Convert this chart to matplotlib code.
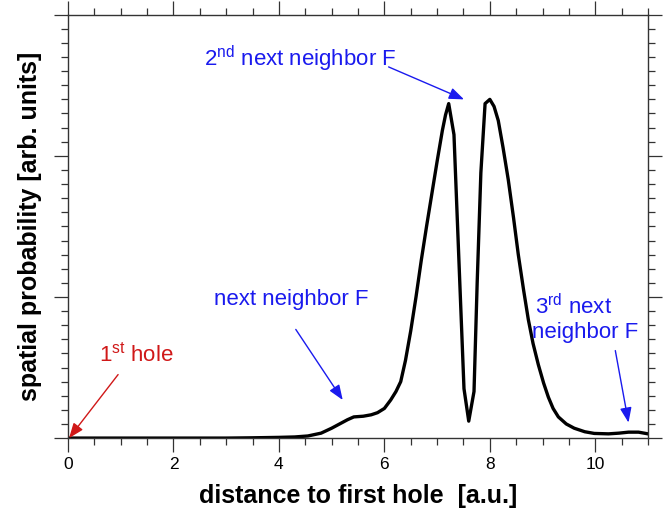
import matplotlib
matplotlib.use("Agg")
import matplotlib.pyplot as plt
from matplotlib.ticker import MultipleLocator, NullFormatter

plt.rcParams["font.family"] = ["Liberation Sans", "DejaVu Sans"]
plt.rcParams["mathtext.fontset"] = "custom"
plt.rcParams["mathtext.rm"] = "Liberation Sans"

# --- curve (distance [a.u.], probability [arb. units]) ---
dist = [0.0, 1.0, 2.0, 3.0, 3.5, 4.0, 4.3, 4.55, 4.8, 5.0, 5.15, 5.3, 5.42,
        5.6, 5.75, 5.87, 6.0, 6.12, 6.22, 6.31, 6.4, 6.5, 6.6, 6.7, 6.8,
        6.9, 7.0, 7.1, 7.16, 7.22, 7.32, 7.42, 7.51, 7.60, 7.70, 7.76,
        7.83, 7.91, 8.0, 8.08, 8.16, 8.25, 8.35, 8.45, 8.54, 8.64, 8.73,
        8.82, 8.92, 9.02, 9.11, 9.2, 9.3, 9.45, 9.6, 9.8, 9.98, 10.25,
        10.45, 10.63, 10.82, 11.0]
prob = [0.0, 0.0, 0.0, 0.0, 0.002, 0.005, 0.008, 0.015, 0.035, 0.07, 0.10,
        0.13, 0.15, 0.155, 0.165, 0.18, 0.21, 0.27, 0.33, 0.40, 0.55, 0.76,
        1.00, 1.26, 1.50, 1.73, 1.96, 2.18, 2.29, 2.37, 2.15, 1.20, 0.35,
        0.12, 0.33, 1.10, 1.88, 2.37, 2.40, 2.35, 2.25, 2.06, 1.83, 1.56,
        1.30, 1.05, 0.84, 0.67, 0.52, 0.39, 0.29, 0.21, 0.15, 0.10, 0.07,
        0.045, 0.033, 0.03, 0.035, 0.042, 0.042, 0.03]

blue = "#1a1aee"
red = "#d01818"

fig = plt.figure(figsize=(6.72, 5.16), dpi=100)
ax = fig.add_axes([0.1012, 0.151, 0.8631, 0.8205])

ax.plot(dist, prob, color="black", lw=2.4, solid_joinstyle="round")

ax.set_xlim(0, 11)
ax.set_ylim(0, 3)
ax.xaxis.set_major_locator(MultipleLocator(2))
ax.xaxis.set_minor_locator(MultipleLocator(0.5))
ax.yaxis.set_major_locator(MultipleLocator(1))
ax.yaxis.set_minor_locator(MultipleLocator(0.1))
ax.yaxis.set_major_formatter(NullFormatter())
ax.tick_params(which="both", direction="out", top=True, right=True,
               color="#333333", width=0.9, labelsize=12.5)
ax.tick_params(which="major", length=10)
ax.tick_params(which="minor", length=5)
for sp in ax.spines.values():
    sp.set_linewidth(1.0)
    sp.set_color("#333333")

ax.set_xlabel("distance to first hole  [a.u.]", fontsize=18, fontweight="bold",
              labelpad=9)
ax.set_ylabel("spatial probability [arb. units]", fontsize=18, fontweight="bold",
              labelpad=5)

arrow_kw = dict(arrowstyle="-|>,head_length=0.9,head_width=0.35", lw=1.0,
                shrinkA=0, shrinkB=0)

# 1st hole
ax.annotate("", xy=(0.02, 0.0), xytext=(0.95, 0.45),
            arrowprops=dict(color=red, **arrow_kw))
ax.text(1.29, 0.59, r"1$^{\mathrm{st}}$ hole", color=red, fontsize=16,
        ha="center", va="center")

# next neighbor
ax.annotate("", xy=(5.21, 0.27), xytext=(4.32, 0.77),
            arrowprops=dict(color=blue, **arrow_kw))
ax.text(4.24, 0.98, "next neighbor F", color=blue, fontsize=16,
        ha="center", va="center")

# 2nd next neighbor
ax.annotate("", xy=(7.51, 2.40), xytext=(6.08, 2.63),
            arrowprops=dict(color=blue, **arrow_kw))
ax.text(4.41, 2.69, r"2$^{\mathrm{nd}}$ next neighbor F", color=blue,
        fontsize=16, ha="center", va="center")

# 3rd next neighbor
ax.annotate("", xy=(10.63, 0.11), xytext=(10.38, 0.62),
            arrowprops=dict(color=blue, **arrow_kw))
ax.text(8.86, 0.93, r"3$^{\mathrm{rd}}$ next", color=blue, fontsize=16,
        ha="left", va="center")
ax.text(8.80, 0.745, "neighbor F", color=blue, fontsize=16,
        ha="left", va="center")

fig.savefig("out.png", dpi=100)
